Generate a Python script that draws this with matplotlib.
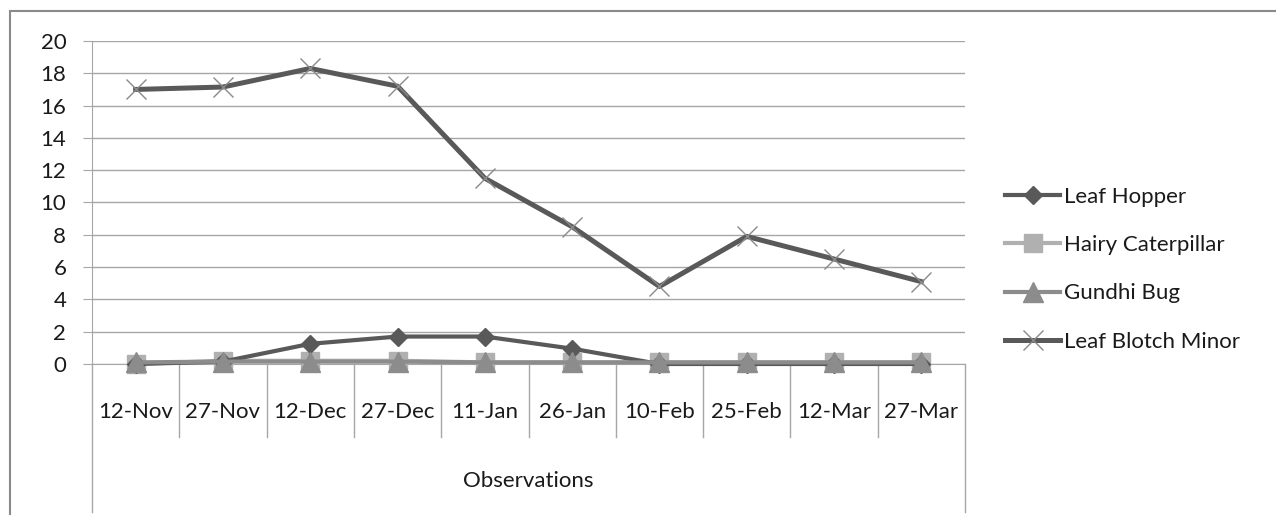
import matplotlib
matplotlib.use("Agg")
import matplotlib.pyplot as plt
from matplotlib.patches import Rectangle
from matplotlib.lines import Line2D

plt.rcParams['font.family'] = ['Lato', 'DejaVu Sans']

dates = ["12-Nov", "27-Nov", "12-Dec", "27-Dec", "11-Jan",
         "26-Jan", "10-Feb", "25-Feb", "12-Mar", "27-Mar"]
leaf_hopper = [0, 0.15, 1.25, 1.7, 1.7, 0.95, 0, 0, 0, 0]
hairy_caterpillar = [0, 0.2, 0.2, 0.2, 0.1, 0.1, 0.1, 0.1, 0.1, 0.1]
gundhi_bug = [0.1, 0.15, 0.15, 0.15, 0.1, 0.1, 0.1, 0.1, 0.1, 0.1]
leaf_blotch = [17.0, 17.15, 18.3, 17.2, 11.5, 8.5, 4.8, 7.9, 6.5, 5.1]
yticks = list(range(0, 21, 2))

W, H = 1276, 515
fig = plt.figure(figsize=(W / 100, H / 100), dpi=100)
# plot area in pixels: x 92..965, y 41..364
ax = fig.add_axes([92 / W, (H - 364) / H, (965 - 92) / W, (364 - 41) / H])

# outer chart frame
fig.patches.append(Rectangle((10 / W, -0.1), 1.2, (H - 11) / H + 0.1,
                             transform=fig.transFigure, fill=False,
                             edgecolor="#8a8a8a", linewidth=1.5))

x = list(range(len(dates)))
dark = "#595959"
styles = [
    dict(color=dark, lw=3, marker="D", ms=9, mfc=dark, mec=dark),
    dict(color="#b0b0b0", lw=3, marker="s", ms=13, mfc="#b0b0b0", mec="#b0b0b0"),
    dict(color="#8c8c8c", lw=3, marker="^", ms=14, mfc="#8c8c8c", mec="#8c8c8c"),
    dict(color=dark, lw=3.6, marker="x", ms=15, mew=1, mec="#8a8a8a"),
]
names = ["Leaf Hopper", "Hairy Caterpillar", "Gundhi Bug", "Leaf Blotch Minor"]
series = [leaf_hopper, hairy_caterpillar, gundhi_bug, leaf_blotch]
zorders = [4, 3, 5, 6]
for ys, st, nm, z in zip(series, styles, names, zorders):
    ax.plot(x, ys, label=nm, zorder=z, clip_on=False, **st)

ax.set_xlim(-0.5, len(dates) - 0.5)
ax.set_ylim(0, 20)
ax.set_yticks(yticks)
ax.yaxis.grid(True, color="#a6a6a6", lw=1)
ax.set_axisbelow(True)
ax.tick_params(axis="y", length=6.5, color="#a6a6a6", labelsize=16, pad=12,
               labelcolor="#1a1a1a")
ax.tick_params(axis="x", length=0, labelsize=16, pad=27, labelcolor="#1a1a1a")
ax.set_xticks(x)
ax.set_xticklabels(dates)
for s in ["top", "right"]:
    ax.spines[s].set_visible(False)
ax.spines["left"].set_color("#a6a6a6")
ax.spines["bottom"].set_color("#a6a6a6")

# category dividers and group box
for b in range(len(dates) + 1):
    xb = b - 0.5
    low = -0.458 if b in (0, len(dates)) else -0.226
    ax.plot([xb, xb], [0, low], color="#a6a6a6", lw=1,
            transform=ax.get_xaxis_transform(), clip_on=False)
ax.text(0.5, -0.362, "Observations", transform=ax.transAxes,
        ha="center", va="center", fontsize=16, color="#1a1a1a")

handles = [Line2D([], [], **st) for st in styles]
fig.legend(handles, names,
           loc="upper left", bbox_to_anchor=(996 / W, (H - 178) / H),
           frameon=False, fontsize=16, handlelength=2.5, handletextpad=0.18,
           labelspacing=1.27, borderaxespad=0, labelcolor="#1a1a1a")

fig.savefig("out.png", dpi=100)
